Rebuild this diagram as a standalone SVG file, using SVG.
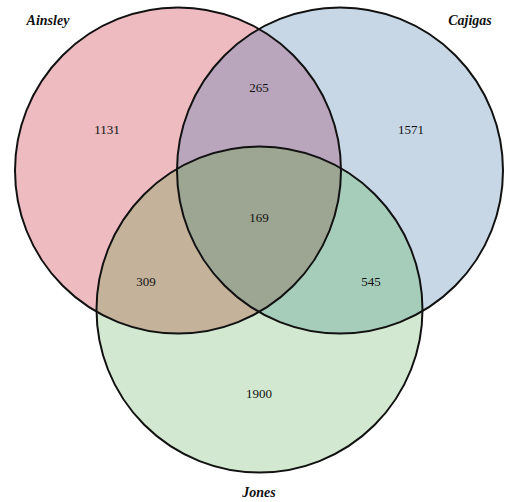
<svg xmlns="http://www.w3.org/2000/svg" width="510" height="502" viewBox="0 0 510 502">
  <style>
    .num { font-family: "Liberation Serif", "Times New Roman", serif; font-size: 13px; fill: #111; text-anchor: middle; }
    .lbl { font-family: "Liberation Serif", "Times New Roman", serif; font-size: 14px; font-weight: bold; font-style: italic; fill: #111; text-anchor: middle; }
    .ring { fill: none; stroke: #111; stroke-width: 2; }
  </style>
  <defs>
    <circle id="cA" cx="178" cy="170.5" r="163"/>
    <circle id="cB" cx="340" cy="170.5" r="163"/>
    <circle id="cG" cx="259.5" cy="309.5" r="163"/>
    <clipPath id="clipA"><use href="#cA"/></clipPath>
    <clipPath id="clipB"><use href="#cB"/></clipPath>
    <clipPath id="clipG"><use href="#cG"/></clipPath>
  </defs>
  <rect width="510" height="502" fill="#ffffff"/>
  <g id="regions">
    <use href="#cA" fill="#EEBBC0"/>
    <use href="#cB" fill="#C7D7E6"/>
    <use href="#cG" fill="#D3E8D0"/>
    <use href="#cB" fill="#B9A6BD" clip-path="url(#clipA)"/>
    <use href="#cG" fill="#C4B29A" clip-path="url(#clipA)"/>
    <use href="#cG" fill="#A6CDBA" clip-path="url(#clipB)"/>
    <g clip-path="url(#clipA)">
      <use href="#cG" fill="#9DA593" clip-path="url(#clipB)"/>
    </g>
  </g>
  <g id="node-ainsley">
    <use href="#cA" class="ring"/>
    <text class="lbl" x="48" y="25">Ainsley</text>
  </g>
  <g id="node-cajigas">
    <use href="#cB" class="ring"/>
    <text class="lbl" x="470" y="25">Cajigas</text>
  </g>
  <g id="node-jones">
    <use href="#cG" class="ring"/>
    <text class="lbl" x="259" y="497">Jones</text>
  </g>
  <g id="counts">
    <text class="num" x="107" y="134">1131</text>
    <text class="num" x="259" y="92">265</text>
    <text class="num" x="411" y="134">1571</text>
    <text class="num" x="259" y="222">169</text>
    <text class="num" x="146" y="286">309</text>
    <text class="num" x="371" y="286">545</text>
    <text class="num" x="259" y="398">1900</text>
  </g>
</svg>
